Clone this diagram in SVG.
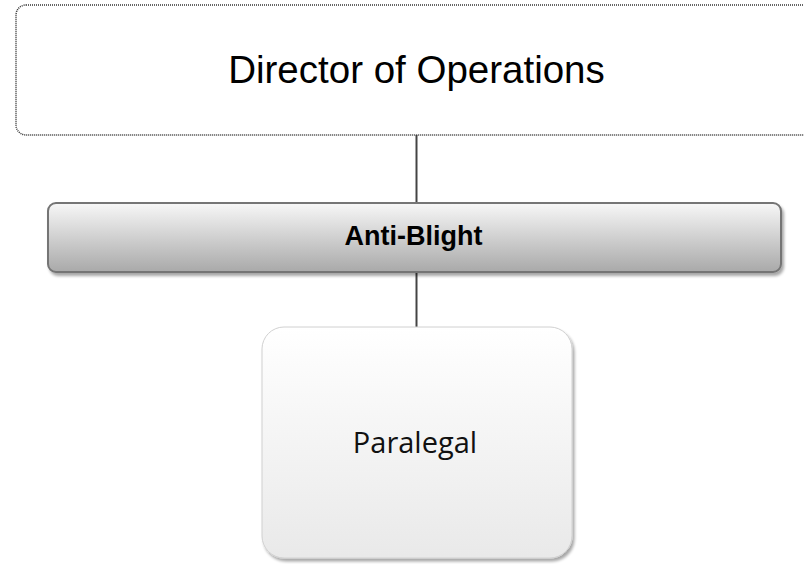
<svg xmlns="http://www.w3.org/2000/svg" width="804" height="564" viewBox="0 0 804 564">
<defs>
<linearGradient id="gBar" x1="0" y1="0" x2="0" y2="1">
<stop offset="0" stop-color="#f7f7f7"/>
<stop offset="1" stop-color="#a9a9a9"/>
</linearGradient>
<linearGradient id="gBox" x1="0" y1="0" x2="0" y2="1">
<stop offset="0" stop-color="#ffffff"/>
<stop offset="1" stop-color="#e9e9e9"/>
</linearGradient>
<filter id="sh" x="-10%" y="-10%" width="120%" height="130%">
<feGaussianBlur in="SourceAlpha" stdDeviation="1.5"/>
<feOffset dx="2" dy="3" result="b"/>
<feComponentTransfer><feFuncA type="linear" slope="0.35"/></feComponentTransfer>
<feMerge><feMergeNode/><feMergeNode in="SourceGraphic"/></feMerge>
</filter>
</defs>
<style>
.conn{stroke:#444;stroke-width:2;fill:none}
.t1{font-family:"Liberation Sans",Arial,sans-serif;font-size:38.5px;fill:#000}
.t2{font-family:"Liberation Sans",Arial,sans-serif;font-size:27px;font-weight:bold;fill:#000}
.t3{font-family:"Open Sans","Noto Sans",sans-serif;font-size:29px;fill:#111}
</style>
<rect width="804" height="564" fill="#fff"/>
<g id="connectors">
<line class="conn" x1="416.5" y1="135" x2="416.5" y2="203"/>
<line class="conn" x1="416.5" y1="272" x2="416.5" y2="327"/>
</g>
<g id="director">
<rect x="16" y="5" width="800" height="130" rx="10" fill="#fff" stroke="#333" stroke-width="1.5" stroke-dasharray="1 1"/>
<text class="t1" x="416.5" y="83" text-anchor="middle">Director of Operations</text>
</g>
<g id="antiblight">
<rect x="48" y="203" width="733" height="69" rx="8" fill="url(#gBar)" stroke="#747474" stroke-width="2" filter="url(#sh)"/>
<text class="t2" x="413.5" y="245" text-anchor="middle">Anti-Blight</text>
</g>
<g id="paralegal">
<rect x="262" y="327" width="310" height="231" rx="22" fill="url(#gBox)" stroke="#d0d0d0" stroke-width="1" filter="url(#sh)"/>
<text class="t3" x="415" y="453" text-anchor="middle">Paralegal</text>
</g>
</svg>
